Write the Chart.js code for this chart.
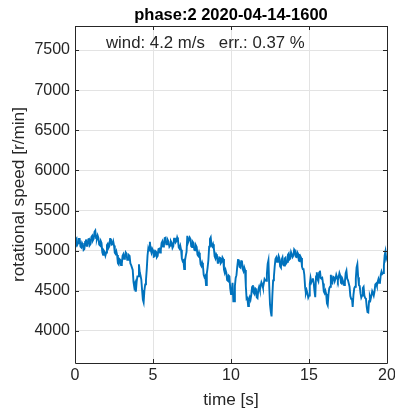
<!DOCTYPE html>
<html>
<head>
<meta charset="utf-8">
<script src="https://cdn.jsdelivr.net/npm/chart.js@4/dist/chart.umd.min.js"></script>
<style>
  html, body { margin: 0; padding: 0; background: #ffffff; }
  canvas { display: block; }
</style>
</head>
<body>
<canvas id="chart" width="395" height="412"></canvas>
<script>
// Rotor speed record, phase 2, 2020-04-14 16:00, sampled every 0.05 s
const titleText = 'phase:2 2020-04-14-1600';
const infoText = 'wind: 4.2 m/s   err.: 0.37 %';
const xTitle = 'time [s]';
const yTitle = 'rotational speed [r/min]';

const sampleStep = 0.05; // seconds between samples

// rotational speed [r/min]
const speed = [
  5060, 5135, 5150, 5075, 5095, 5145, 5145, 5050, 5040, 5095,
  5075, 5010, 5020, 5110, 5140, 5060, 5060, 5140, 5145, 5070,
  5085, 5170, 5185, 5130, 5150, 5235, 5250, 5155, 5150, 5190,
  5160, 5075, 5065, 5120, 5095, 4980, 4950, 5000, 4985, 4940,
  4975, 5070, 5085, 5035, 5055, 5145, 5150, 5075, 5080, 5115,
  5065, 4975, 4960, 4990, 4945, 4845, 4830, 4895, 4885, 4820,
  4835, 4935, 4955, 4900, 4915, 4980, 4965, 4885, 4885, 4945,
  4935, 4840, 4820, 4820, 4760, 4610, 4545, 4585, 4490, 4610,
  4680, 4680, 4830, 4730, 4690, 4640, 4510, 4390, 4355, 4505,
  4580, 4635, 4770, 4940, 5030, 5000, 5110, 5010, 4975, 5025,
  5005, 4925, 4930, 4995, 4985, 4920, 4935, 5020, 5025, 4975,
  5005, 5095, 5115, 5050, 5065, 5155, 5160, 5080, 5080, 5130,
  5110, 5050, 5065, 5115, 5095, 5035, 5055, 5150, 5160, 5105,
  5120, 5165, 5135, 5040, 5025, 5060, 5010, 4900, 4870, 4880,
  4770, 4875, 4935, 4985, 5185, 5105, 5105, 5165, 5145, 5055,
  5045, 5110, 5095, 5010, 5005, 5065, 5045, 4950, 4935, 4975,
  4935, 4830, 4810, 4850, 4815, 4700, 4670, 4685, 4570, 4715,
  4790, 4880, 5050, 5145, 5165, 5065, 5050, 5080, 5035, 4930,
  4905, 4955, 4935, 4850, 4850, 4915, 4910, 4845, 4860, 4915,
  4895, 4765, 4725, 4760, 4725, 4635, 4625, 4690, 4680, 4530,
  4460, 4500, 4600, 4370, 4370, 4560, 4660, 4695, 4800, 4885,
  4890, 4800, 4790, 4870, 4875, 4770, 4745, 4790, 4760, 4560,
  4400, 4410, 4310, 4390, 4420, 4390, 4450, 4545, 4570, 4475,
  4460, 4530, 4520, 4420, 4410, 4515, 4550, 4510, 4560, 4605,
  4580, 4540, 4590, 4645, 4630, 4625, 4710, 4835, 4880, 4560,
  4330, 4240, 4180, 4440, 4630, 4675, 4800, 4895, 4915, 4860,
  4890, 4935, 4905, 4805, 4790, 4890, 4915, 4825, 4815, 4905,
  4915, 4845, 4860, 4950, 4965, 4890, 4900, 4980, 4980, 4920,
  4940, 5015, 5000, 4925, 4920, 4980, 4960, 4875, 4870, 4930,
  4910, 4800, 4770, 4770, 4700, 4545, 4470, 4505, 4470, 4415,
  4440, 4585, 4660, 4605, 4630, 4655, 4600, 4500, 4420, 4680,
  4730, 4645, 4620, 4725, 4750, 4660, 4650, 4660, 4590, 4490,
  4470, 4500, 4460, 4345, 4320, 4460, 4530, 4550, 4700, 4615,
  4600, 4675, 4670, 4620, 4650, 4700, 4670, 4630, 4670, 4720,
  4690, 4600, 4590, 4640, 4610, 4570, 4610, 4720, 4750, 4650,
  4630, 4630, 4550, 4435, 4400, 4410, 4300, 4450, 4530, 4550,
  4650, 4790, 4830, 4670, 4570, 4560, 4470, 4415, 4440, 4535,
  4550, 4440, 4410, 4400, 4300, 4235, 4230, 4370, 4430, 4395,
  4440, 4495, 4470, 4440, 4490, 4580, 4590, 4560, 4610, 4645,
  4600, 4605, 4700, 4740, 4710, 4720, 4810, 4940, 4990, 4900,
  4930
];

const timeS = speed.map((_, i) => Math.round(i * sampleStep * 100) / 100);

const xTicks = [0, 5, 10, 15, 20];
const yTicks = [4000, 4500, 5000, 5500, 6000, 6500, 7000, 7500];
const xRange = [0, 20];
const yRange = [3600, 7800];

const axisColor = '#262626';
const lineColor = '#0072BD';
const gridColor = '#e3e3e3';
const fontFamily = "'Liberation Sans', Arial, Helvetica, sans-serif";

Chart.defaults.font.family = fontFamily;
Chart.defaults.font.size = 16;
Chart.defaults.color = axisColor;

// Box around the axes, inward tick marks and the text above/around the plot
const framePlugin = {
  id: 'frame',
  afterDraw(chart) {
    const { ctx, chartArea: a, scales } = chart;
    const tickLen = 4;
    ctx.save();
    ctx.strokeStyle = axisColor;
    ctx.lineWidth = 1;
    ctx.beginPath();
    ctx.rect(Math.round(a.left) + 0.5, Math.round(a.top) + 0.5,
             Math.round(a.right - a.left), Math.round(a.bottom - a.top));
    ctx.stroke();
    ctx.beginPath();
    xTicks.forEach(v => {
      const px = Math.round(scales.x.getPixelForValue(v)) + 0.5;
      ctx.moveTo(px, a.bottom); ctx.lineTo(px, a.bottom - tickLen);
      ctx.moveTo(px, a.top); ctx.lineTo(px, a.top + tickLen);
    });
    yTicks.forEach(v => {
      const py = Math.round(scales.y.getPixelForValue(v)) + 0.5;
      ctx.moveTo(a.left, py); ctx.lineTo(a.left + tickLen, py);
      ctx.moveTo(a.right, py); ctx.lineTo(a.right - tickLen, py);
    });
    ctx.stroke();

    const cx = (a.left + a.right) / 2;
    ctx.fillStyle = '#000000';
    ctx.textAlign = 'center';
    ctx.textBaseline = 'alphabetic';
    ctx.font = 'bold 16.5px ' + fontFamily;
    ctx.fillText(titleText, cx, 19.5);

    ctx.fillStyle = axisColor;
    ctx.font = '16.8px ' + fontFamily;
    ctx.textAlign = 'left';
    ctx.fillText(infoText, 106, 47.5);

    ctx.font = '17.2px ' + fontFamily;
    ctx.textAlign = 'center';
    ctx.fillText(xTitle, cx, 404.5);

    ctx.save();
    ctx.translate(23.5, (a.top + a.bottom) / 2);
    ctx.rotate(-Math.PI / 2);
    ctx.fillText(yTitle, 0, 0);
    ctx.restore();
    ctx.restore();
  }
};

new Chart(document.getElementById('chart'), {
  type: 'line',
  data: {
    datasets: [{
      data: timeS.map((t, i) => ({ x: t, y: speed[i] })),
      borderColor: lineColor,
      borderWidth: 1.9,
      borderJoinStyle: 'miter',
      pointRadius: 0,
      tension: 0,
      fill: false
    }]
  },
  options: {
    responsive: false,
    animation: false,
    events: [],
    layout: { padding: { top: 26, right: 8, left: 0, bottom: 0 } },
    plugins: { legend: { display: false }, tooltip: { enabled: false }, title: { display: false } },
    scales: {
      x: {
        type: 'linear',
        min: xRange[0], max: xRange[1],
        afterBuildTicks: s => { s.ticks = xTicks.map(v => ({ value: v })); },
        afterFit: s => { s.height = 49; s.paddingLeft = 0; s.paddingRight = 0; },
        grid: { color: gridColor, lineWidth: 1, drawTicks: false },
        border: { display: false },
        ticks: { padding: 3, maxRotation: 0, autoSkip: false, color: axisColor }
      },
      y: {
        type: 'linear',
        min: yRange[0], max: yRange[1],
        afterBuildTicks: s => { s.ticks = yTicks.map(v => ({ value: v })); },
        afterFit: s => { s.width = 75; s.paddingTop = 0; s.paddingBottom = 0; },
        grid: { color: gridColor, lineWidth: 1, drawTicks: false },
        border: { display: false },
        ticks: { padding: 5, autoSkip: false, color: axisColor, callback: v => String(v) }
      }
    }
  },
  plugins: [framePlugin]
});
</script>
</body>
</html>
